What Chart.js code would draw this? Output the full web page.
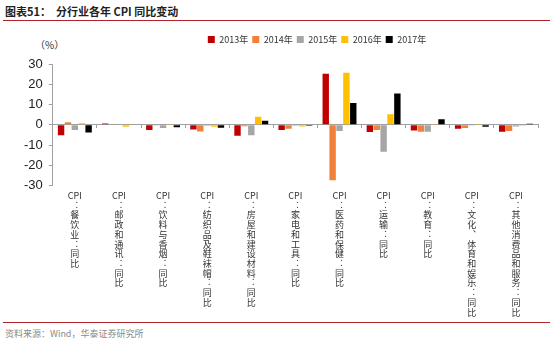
<!DOCTYPE html>
<html>
<head>
<meta charset="utf-8">
<script src="https://cdn.jsdelivr.net/npm/chart.js@4"></script>
<style>
  html, body { margin:0; padding:0; background:#fff; width:550px; height:344px; overflow:hidden; position:relative; font-family:"Noto Sans CJK SC","Liberation Sans",sans-serif; }
  #title { position:absolute; left:5px; top:3px; font-size:11px; font-weight:bold; color:#222; white-space:nowrap; }
  #topline { position:absolute; left:3px; top:20px; width:547px; height:1px; background:#B0232A; }
  #unit { position:absolute; left:35px; top:37px; font-size:10px; color:#333; }
  #botline { position:absolute; left:3px; top:322px; width:547px; height:1px; background:#B0232A; }
  #source { position:absolute; left:5px; top:327px; font-size:9px; color:#8a8a8a; white-space:nowrap; }
  #wrap { position:absolute; left:0; top:26px; width:550px; height:296px; }
</style>
</head>
<body>
<div id="title">图表51：&nbsp;&nbsp;分行业各年 CPI 同比变动</div>
<div id="topline"></div>
<div id="unit">（%）</div>
<div id="wrap"><canvas id="c"></canvas></div>
<div id="botline"></div>
<div id="source">资料来源：Wind，华泰证券研究所</div>
<script>
// categories (vertical labels: one entry per line)
const categories = [
  ["CPI","︓","餐","饮","业","︓","同","比"],
  ["CPI","︓","邮","政","和","通","讯","︓","同","比"],
  ["CPI","︓","饮","料","与","香","烟","︓","同","比"],
  ["CPI","︓","纺","织","品","及","鞋","袜","帽","︓","同","比"],
  ["CPI","︓","房","屋","和","建","设","材","料","︓","同","比"],
  ["CPI","︓","家","电","和","工","具","︓","同","比"],
  ["CPI","︓","医","药","和","保","健","︓","同","比"],
  ["CPI","︓","运","输","︓","同","比"],
  ["CPI","︓","教","育","︓","同","比"],
  ["CPI","︓","文","化","︑","体","育","和","娱","乐","︓","同","比"],
  ["CPI","︓","其","他","消","费","品","和","服","务","︓","同","比"]
];
const seriesNames = ["2013年","2014年","2015年","2016年","2017年"];
const s2013 = [-5.2, 0.7, -2.5, -2.3, -5.4, -2.6, 25.2, -3.6, -2.8, -2.0, -3.4];
const s2014 = [1.3, -0.2, -0.3, -3.3, -0.7, -2.0, -27.4, -2.6, -3.4, -1.6, -3.0];
const s2015 = [-2.5, 0.3, -1.6, -0.5, -5.2, -0.5, -3.1, -13.3, -3.4, -0.3, -0.8];
const s2016 = [0.8, -1.0, 0.1, -1.0, 4.0, -0.8, 25.7, 5.2, 0.1, 0.1, -0.4];
const s2017 = [-3.8, 0.3, -1.2, -1.5, 2.0, -0.5, 10.8, 15.4, 2.8, -1.0, 0.5];
const yTicks = [30, 20, 10, 0, -10, -20, -30];

const colors = ["#C00000", "#F0803A", "#A6A6A6", "#FFC000", "#000000"];
const allSeries = [s2013, s2014, s2015, s2016, s2017];

const legendShift = {
  id: 'legendShift',
  beforeDraw(chart) {
    if (chart.legend) { chart.legend.left = 96; chart.legend.top = 5; }
  }
};

new Chart(document.getElementById('c'), {
  type: 'bar',
  data: {
    labels: categories,
    datasets: allSeries.map((d, i) => ({
      label: seriesNames[i],
      data: d,
      backgroundColor: colors[i],
      borderWidth: 0,
      categoryPercentage: 0.78,
      barPercentage: 0.93
    }))
  },
  options: {
    responsive: true,
    maintainAspectRatio: false,
    animation: false,
    devicePixelRatio: 1,
    layout: { padding: { left: 18, right: 12, top: 15, bottom: 0 } },
    plugins: {
      legend: {
        position: 'top',
        align: 'center',
        labels: {
          boxWidth: 7, boxHeight: 7, padding: 4,
          color: '#333',
          font: { size: 9, family: '"Noto Sans CJK SC","Liberation Sans",sans-serif' }
        }
      },
      tooltip: { enabled: false }
    },
    scales: {
      x: {
        type: 'category',
        position: 'bottom',
        grid: { display: false, drawTicks: false },
        border: { display: false },
        ticks: {
          autoSkip: false, maxRotation: 0, minRotation: 0, padding: 5,
          color: '#333',
          font: { size: 9, lineHeight: 1.08, family: '"Noto Sans CJK SC",sans-serif' }
        }
      },
      x2: {
        type: 'category',
        labels: categories,
        position: { y: 0 },
        offset: true,
        grid: { offset: true, drawOnChartArea: false, drawTicks: true, tickLength: 3, color: '#A0A0A0' },
        border: { display: true, color: '#A0A0A0', width: 1 },
        ticks: { display: false }
      },
      y: {
        min: -30, max: 30,
        afterBuildTicks(scale) { scale.ticks = yTicks.map(v => ({ value: v })); },
        grid: { drawOnChartArea: false, drawTicks: true, tickLength: 4, color: '#A0A0A0' },
        border: { display: true, color: '#A0A0A0', width: 1 },
        ticks: {
          padding: 6, color: '#222',
          font: { size: 13, family: '"Liberation Sans",Arial,sans-serif' }
        }
      }
    }
  },
  plugins: [legendShift]
});
</script>
</body>
</html>
